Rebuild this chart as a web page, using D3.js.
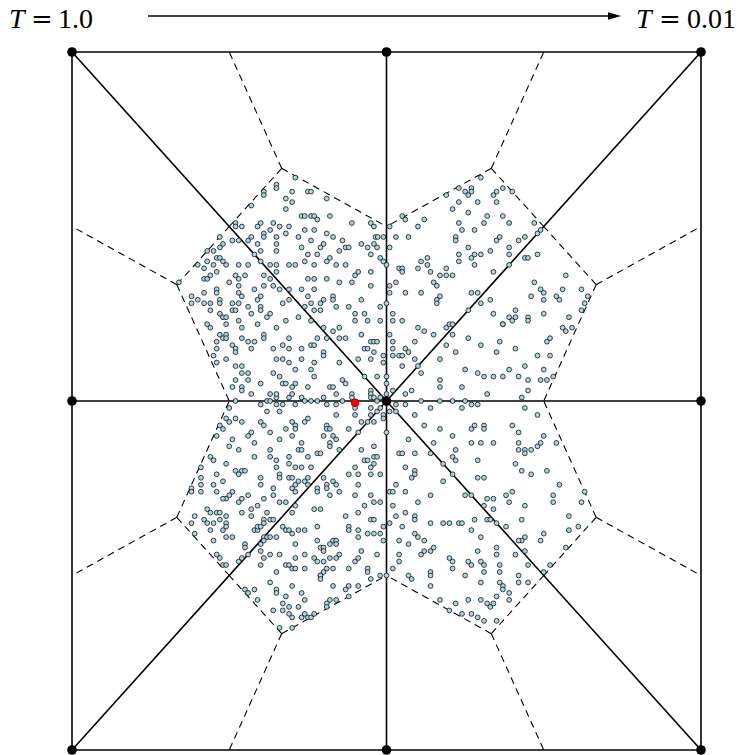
<!DOCTYPE html>
<html>
<head>
<meta charset="utf-8">
<script src="https://cdn.jsdelivr.net/npm/d3@7"></script>
<style>
  body { margin: 0; background: #fff; }
  svg { display: block; }
</style>
</head>
<body>
<svg id="chart" width="741" height="755"></svg>
<script>
// Mesh nodes on the square [-1,1] x [-1,1]
const nodes = [
  [-1, 1], [0, 1], [1, 1],
  [-1, 0], [0, 0], [1, 0],
  [-1, -1], [0, -1], [1, -1]
];
// Mesh edges (node index pairs): outer frame + spokes from the centre
const edges = [
  [0, 1], [1, 2], [2, 5], [5, 8], [8, 7], [7, 6], [6, 3], [3, 0],
  [4, 0], [4, 1], [4, 2], [4, 3], [4, 5], [4, 6], [4, 7], [4, 8]
];
// Triangles of the mesh (node indices)
const triangles = [
  [4, 1, 0], [4, 1, 2], [4, 5, 2], [4, 5, 8],
  [4, 7, 8], [4, 7, 6], [4, 3, 6], [4, 3, 0]
];
// Annealing samples
const samples = [
  [-0.29,0.64],[-0.35,0.62],[-0.35,0.61],[-0.39,0.60],[-0.39,0.59],[-0.30,0.60],[-0.32,0.58],[-0.30,0.57],[-0.25,0.60],[-0.24,0.60],
  [-0.43,0.56],[-0.32,0.55],[-0.27,0.53],[-0.26,0.53],[-0.24,0.53],[-0.23,0.53],[-0.22,0.52],[-0.40,0.51],[-0.48,0.51],[-0.48,0.50],
  [-0.46,0.50],[-0.41,0.50],[-0.37,0.49],[-0.39,0.48],[-0.39,0.47],[-0.36,0.51],[-0.34,0.50],[-0.31,0.50],[-0.32,0.48],[-0.26,0.49],
  [-0.23,0.49],[-0.53,0.47],[-0.52,0.45],[-0.49,0.46],[-0.47,0.46],[-0.44,0.46],[-0.43,0.47],[-0.41,0.45],[-0.40,0.43],[-0.35,0.47],
  [-0.35,0.45],[-0.35,0.43],[-0.28,0.47],[-0.27,0.44],[-0.24,0.46],[-0.21,0.44],[-0.57,0.43],[-0.55,0.43],[-0.53,0.44],[-0.54,0.41],
  [-0.53,0.41],[-0.42,0.42],[-0.40,0.40],[-0.37,0.39],[-0.35,0.39],[-0.25,0.42],[-0.22,0.42],[-0.60,0.39],[-0.58,0.38],[-0.57,0.40],
  [-0.55,0.39],[-0.52,0.40],[-0.51,0.39],[-0.47,0.39],[-0.44,0.39],[-0.31,0.39],[-0.29,0.39],[-0.26,0.40],[-0.23,0.39],[-0.66,0.34],
  [-0.58,0.35],[-0.57,0.35],[-0.56,0.36],[-0.54,0.37],[-0.50,0.34],[-0.48,0.36],[-0.47,0.35],[-0.45,0.36],[-0.39,0.36],[-0.37,0.35],
  [-0.35,0.37],[-0.25,0.35],[-0.23,0.35],[-0.62,0.30],[-0.62,0.28],[-0.60,0.29],[-0.58,0.28],[-0.58,0.31],[-0.56,0.28],[-0.54,0.32],
  [-0.54,0.31],[-0.53,0.29],[-0.53,0.28],[-0.47,0.33],[-0.47,0.31],[-0.46,0.30],[-0.42,0.32],[-0.40,0.30],[-0.41,0.29],[-0.39,0.33],
  [-0.36,0.33],[-0.34,0.32],[-0.31,0.32],[-0.27,0.32],[-0.25,0.30],[-0.23,0.32],[-0.21,0.28],[-0.49,0.28],[-0.47,0.28],[-0.56,0.26],
  [-0.49,0.26],[-0.48,0.26],[-0.44,0.27],[-0.43,0.25],[-0.40,0.27],[-0.40,0.26],[-0.38,0.24],[-0.37,0.25],[-0.33,0.28],[-0.31,0.29],
  [-0.28,0.24],[-0.26,0.27],[-0.24,0.28],[-0.23,0.26],[-0.21,0.26],[-0.53,0.25],[-0.52,0.24],[-0.51,0.24],[-0.51,0.22],[-0.47,0.23],
  [-0.41,0.22],[-0.32,0.23],[-0.24,0.23],[-0.57,0.22],
  [-0.19,0.58],[-0.18,0.53],[-0.11,0.51],[-0.05,0.51],[-0.04,0.50],[0.01,0.50],[-0.19,0.48],[-0.17,0.47],[-0.20,0.45],[-0.14,0.46],
  [-0.13,0.44],[-0.12,0.44],[-0.15,0.43],[-0.08,0.45],[-0.06,0.44],[-0.05,0.42],[-0.04,0.45],[-0.03,0.44],[-0.035,0.47],[-0.028,0.47],
  [-0.01,0.47],[0.01,0.44],[0.03,0.47],[0.07,0.47],[0.05,0.53],[0.06,0.52],[0.12,0.52],[0.10,0.50],[-0.18,0.41],[-0.19,0.40],
  [-0.16,0.39],[-0.13,0.39],[-0.10,0.36],[-0.09,0.37],[-0.05,0.37],[-0.19,0.35],[-0.11,0.34],[-0.15,0.34],[-0.02,0.41],[-0.01,0.40],
  [0.00,0.39],[-0.05,0.33],[0.03,0.34],[0.01,0.33],[0.01,0.31],[0.06,0.31],[0.04,0.38],[0.05,0.38],[0.05,0.37],[0.10,0.38],
  [0.11,0.40],[0.13,0.41],[0.13,0.39],[0.14,0.37],[0.17,0.36],[0.19,0.36],[0.21,0.36],[0.19,0.38],[0.15,0.34],[0.16,0.33],
  [0.17,0.30],[0.16,0.29],[0.16,0.28],[0.11,0.31],[-0.17,0.30],[-0.17,0.29],[-0.16,0.27],[-0.12,0.27],[-0.20,0.29],[-0.08,0.29],
  [-0.10,0.25],[-0.10,0.23],[-0.07,0.25],[-0.06,0.23],[-0.02,0.27],[0.00,0.28],[0.02,0.25],[0.02,0.23],[-0.02,0.23],[0.05,0.23],
  [0.23,0.61],[0.19,0.59],[0.23,0.57],[0.21,0.55],[0.23,0.51],[0.22,0.47],[0.22,0.46],[0.23,0.42],[0.23,0.40],[0.20,0.22],
  [0.30,0.64],[0.25,0.60],[0.26,0.59],[0.27,0.61],[0.27,0.60],[0.34,0.59],[0.35,0.60],[0.37,0.61],[0.40,0.60],[0.29,0.57],
  [0.35,0.57],[0.26,0.54],[0.32,0.53],[0.37,0.53],[0.31,0.51],[0.39,0.51],[0.24,0.49],[0.28,0.49],[0.47,0.51],[0.49,0.49],
  [0.48,0.48],[0.44,0.47],[0.42,0.46],[0.35,0.46],[0.36,0.47],[0.26,0.44],[0.39,0.44],[0.33,0.43],[0.30,0.42],[0.28,0.42],
  [0.27,0.41],[0.28,0.39],[0.39,0.42],[0.44,0.41],[0.45,0.41],[0.48,0.42],[0.39,0.39],[0.34,0.37],[0.57,0.36],[0.47,0.34],
  [0.49,0.32],[0.50,0.31],[0.46,0.30],[0.50,0.29],[0.56,0.32],[0.54,0.30],[0.55,0.29],[0.62,0.32],[0.64,0.30],[0.63,0.28],
  [0.62,0.26],[0.27,0.31],[0.29,0.31],[0.33,0.29],[0.30,0.28],[0.26,0.26],[0.34,0.25],[0.41,0.26],[0.45,0.24],[0.39,0.24],
  [0.40,0.23],[0.41,0.24],[0.50,0.25],[0.58,0.24],[0.45,0.23],[0.37,0.22],
  [-0.56,0.21],[-0.46,0.21],[-0.35,0.21],[-0.53,0.19],[-0.51,0.19],[-0.52,0.18],[-0.51,0.18],[-0.49,0.16],[-0.48,0.15],[-0.48,0.14],
  [-0.54,0.17],[-0.54,0.15],[-0.55,0.13],[-0.46,0.18],[-0.44,0.17],[-0.42,0.17],[-0.43,0.15],[-0.39,0.19],[-0.39,0.18],[-0.36,0.15],
  [-0.33,0.16],[-0.31,0.18],[-0.31,0.15],[-0.27,0.15],[-0.24,0.16],[-0.23,0.16],[-0.22,0.18],[-0.54,0.11],[-0.51,0.12],[-0.48,0.10],
  [-0.46,0.10],[-0.46,0.08],[-0.44,0.08],[-0.44,0.06],[-0.48,0.06],[-0.49,0.04],[-0.46,0.04],[-0.46,0.03],[-0.40,0.05],[-0.43,0.02],
  [-0.35,0.12],[-0.33,0.12],[-0.31,0.11],[-0.29,0.09],[-0.27,0.12],[-0.24,0.09],[-0.23,0.11],[-0.23,0.07],[-0.36,0.08],[-0.34,0.07],
  [-0.33,0.05],[-0.32,0.05],[-0.30,0.04],[-0.29,0.05],[-0.30,0.02],[-0.25,0.04],[-0.37,0.02],[-0.35,0.01],[-0.35,0.02],[-0.27,0.01],
  [-0.26,0.00],[-0.24,0.00],[-0.22,0.00],[-0.48,0.00],[-0.50,-0.02],[-0.40,-0.01],[-0.38,0.00],[-0.37,0.00],[-0.35,-0.01],[-0.33,-0.01],
  [-0.31,0.01],[-0.29,-0.01],[-0.38,-0.03],[-0.34,-0.03],[-0.51,-0.05],[-0.53,-0.07],[-0.54,-0.10],[-0.52,-0.08],[-0.50,-0.06],[-0.48,-0.05],
  [-0.46,-0.06],[-0.40,-0.06],[-0.39,-0.07],[-0.43,-0.09],[-0.44,-0.10],[-0.37,-0.09],[-0.30,-0.06],[-0.32,-0.08],[-0.29,-0.07],[-0.29,-0.08],
  [-0.30,-0.10],[-0.25,-0.05],[-0.26,-0.06],[-0.49,-0.11],[-0.50,-0.13],[-0.42,-0.12],[-0.34,-0.11],[-0.27,-0.12],[-0.47,-0.14],[-0.42,-0.16],
  [-0.37,-0.14],[-0.37,-0.16],[-0.35,-0.17],[-0.31,-0.16],[-0.28,-0.14],[-0.27,-0.14],[-0.25,-0.16],[-0.22,-0.15],[-0.56,-0.16],[-0.55,-0.17],
  [-0.59,-0.19],[-0.51,-0.18],[-0.54,-0.21],[-0.48,-0.20],[-0.46,-0.20],[-0.45,-0.20],[-0.47,-0.21],[-0.35,-0.19],[-0.31,-0.18],[-0.29,-0.19],
  [-0.27,-0.19],[-0.24,-0.19],[-0.40,-0.22],[-0.34,-0.21],[-0.34,-0.22],[-0.31,-0.22],[-0.30,-0.22],[-0.28,-0.23],[-0.26,-0.23],[-0.25,-0.22],
  [-0.59,-0.22],[-0.52,-0.23],
  [-0.20,0.21],[-0.17,0.20],[-0.15,0.18],[-0.13,0.18],[-0.19,0.18],[-0.15,0.21],[-0.08,0.19],[-0.05,0.17],[-0.04,0.17],[-0.03,0.17],
  [-0.07,0.15],[-0.06,0.15],[-0.05,0.12],[-0.01,0.13],[-0.01,0.11],[-0.04,0.14],[-0.20,0.14],[-0.20,0.13],[-0.15,0.11],[-0.09,0.12],
  [0.01,0.19],[0.02,0.17],[0.02,0.15],[0.04,0.13],[0.02,0.13],[0.09,0.17],[0.10,0.21],[0.12,0.20],[0.15,0.19],[0.19,0.21],
  [0.21,0.19],[0.21,0.22],[0.19,0.16],[0.22,0.14],[0.06,0.15],[0.07,0.14],[0.05,0.13],[0.09,0.12],[0.05,0.10],[0.10,0.10],
  [0.11,0.08],[0.17,0.12],[-0.07,0.07],[-0.03,0.07],[0.00,0.07],[0.00,0.05],[-0.18,0.04],[-0.17,0.04],[-0.16,0.02],[-0.14,0.06],
  [-0.13,0.05],[-0.11,0.02],[-0.11,0.01],[-0.20,0.01],[-0.19,-0.01],[-0.16,-0.01],[-0.14,0.00],[-0.05,0.03],[-0.05,0.02],[-0.05,0.01],
  [-0.04,0.01],[-0.03,0.00],[-0.02,0.01],[0.00,0.02],[0.02,0.03],[0.06,0.02],[0.08,0.03],[0.03,-0.01],[0.06,-0.01],[0.17,0.06],
  [0.17,0.04],[0.17,0.00],[0.21,0.00],[0.11,0.00],[-0.16,-0.04],[-0.10,-0.02],[-0.10,-0.04],[-0.05,-0.02],[-0.05,-0.04],[-0.03,-0.03],
  [-0.02,-0.02],[-0.01,-0.04],[-0.01,-0.05],[0.01,-0.03],[0.03,-0.03],[-0.08,-0.06],[-0.06,-0.06],[-0.04,-0.06],[-0.12,-0.08],[-0.09,-0.09],
  [0.00,-0.09],[-0.19,-0.07],[-0.19,-0.08],[-0.18,-0.08],[-0.17,-0.10],[-0.20,-0.10],[-0.16,-0.11],[-0.18,-0.12],[-0.18,-0.13],[-0.15,-0.14],
  [0.09,-0.04],[0.12,-0.07],[0.07,-0.11],[0.14,-0.02],[0.17,-0.08],[0.15,-0.12],[0.21,-0.10],[0.22,-0.14],[0.21,-0.16],[0.22,-0.17],
  [-0.08,-0.14],[-0.04,-0.13],[0.04,-0.15],[0.05,-0.15],[0.09,-0.15],[0.14,-0.15],[-0.10,-0.19],[-0.07,-0.17],[-0.06,-0.17],[-0.04,-0.16],
  [-0.03,-0.16],[-0.05,-0.19],[-0.04,-0.18],[-0.05,-0.21],[-0.02,-0.21],[0.06,-0.19],[0.09,-0.20],[0.09,-0.21],[0.08,-0.22],[0.18,-0.18],
  [-0.21,-0.15],[-0.20,-0.22],[-0.12,-0.21],[-0.09,-0.21],[0.18,-0.23],[0.21,-0.21],
  [0.37,0.22],[0.56,0.21],[0.57,0.20],[0.59,0.21],[0.26,0.18],[0.30,0.16],[0.36,0.17],[0.41,0.15],[0.35,0.14],[0.51,0.17],
  [0.52,0.18],[0.48,0.13],[0.52,0.13],[0.44,0.10],[0.50,0.09],[0.25,0.09],[0.29,0.08],[0.31,0.07],[0.34,0.07],[0.37,0.07],
  [0.39,0.09],[0.42,0.07],[0.45,0.06],[0.49,0.06],[0.51,0.06],[0.53,0.07],[0.24,0.04],[0.32,0.02],[0.43,0.01],[0.45,0.03],
  [0.25,0.00],[0.24,-0.02],[0.27,-0.01],[0.29,-0.01],[0.44,-0.02],[0.48,-0.04],[0.40,-0.07],[0.27,-0.08],[0.28,-0.07],[0.31,-0.07],
  [0.31,-0.08],[0.42,-0.09],[0.27,-0.12],[0.30,-0.12],[0.34,-0.12],[0.42,-0.12],[0.42,-0.14],[0.44,-0.14],[0.46,-0.14],[0.48,-0.13],
  [0.49,-0.12],[0.50,-0.10],[0.54,-0.12],[0.44,-0.15],[0.29,-0.17],[0.41,-0.18],[0.43,-0.20],[0.46,-0.21],[0.51,-0.20],[0.29,-0.22],
  [0.31,-0.22],
  [-0.62,-0.25],[-0.62,-0.26],[-0.59,-0.24],[-0.59,-0.26],[-0.55,-0.24],[-0.54,-0.26],[-0.49,-0.26],[-0.50,-0.27],[-0.51,-0.28],[-0.52,-0.28],
  [-0.46,-0.28],[-0.44,-0.27],[-0.47,-0.29],[-0.40,-0.24],[-0.36,-0.25],[-0.36,-0.27],[-0.34,-0.29],[-0.39,-0.28],[-0.41,-0.30],[-0.43,-0.31],
  [-0.32,-0.29],[-0.30,-0.25],[-0.29,-0.24],[-0.29,-0.26],[-0.25,-0.24],[-0.22,-0.25],[-0.22,-0.26],[-0.29,-0.30],[-0.30,-0.32],[-0.23,-0.31],
  [-0.61,-0.33],[-0.62,-0.35],[-0.61,-0.38],[-0.57,-0.31],[-0.56,-0.32],[-0.54,-0.32],[-0.53,-0.32],[-0.51,-0.33],[-0.58,-0.34],[-0.57,-0.35],
  [-0.55,-0.35],[-0.53,-0.34],[-0.51,-0.35],[-0.51,-0.36],[-0.52,-0.37],[-0.46,-0.32],[-0.43,-0.33],[-0.56,-0.37],[-0.55,-0.40],[-0.51,-0.39],
  [-0.49,-0.39],[-0.45,-0.41],[-0.45,-0.42],[-0.42,-0.37],[-0.41,-0.37],[-0.41,-0.36],[-0.39,-0.34],[-0.37,-0.34],[-0.36,-0.34],[-0.40,-0.36],
  [-0.39,-0.35],[-0.38,-0.32],[-0.39,-0.39],[-0.38,-0.39],[-0.37,-0.39],[-0.35,-0.39],[-0.40,-0.41],[-0.40,-0.43],[-0.39,-0.40],[-0.37,-0.44],
  [-0.39,-0.45],[-0.40,-0.47],[-0.33,-0.36],[-0.32,-0.37],[-0.31,-0.37],[-0.28,-0.37],[-0.26,-0.37],[-0.30,-0.38],[-0.22,-0.36],[-0.22,-0.40],
  [-0.29,-0.41],[-0.21,-0.42],[-0.34,-0.44],[-0.32,-0.47],[-0.31,-0.47],[-0.29,-0.45],[-0.30,-0.48],[-0.29,-0.48],[-0.26,-0.48],[-0.26,-0.44],
  [-0.23,-0.45],[-0.22,-0.46],[-0.21,-0.50],[-0.54,-0.44],[-0.53,-0.45],[-0.52,-0.47],[-0.51,-0.47],[-0.47,-0.46],[-0.46,-0.45],[-0.44,-0.44],
  [-0.45,-0.54],[-0.44,-0.55],[-0.42,-0.54],[-0.41,-0.57],[-0.37,-0.52],[-0.35,-0.49],[-0.35,-0.54],[-0.35,-0.55],[-0.32,-0.56],[-0.36,-0.60],
  [-0.33,-0.58],[-0.33,-0.60],[-0.31,-0.59],[-0.31,-0.61],[-0.30,-0.62],[-0.28,-0.59],[-0.27,-0.55],[-0.26,-0.57],[-0.27,-0.62],[-0.26,-0.61],
  [-0.25,-0.62],[-0.24,-0.62],[-0.23,-0.61],[-0.30,-0.53],[-0.34,-0.65],[-0.30,-0.65],
  [-0.19,-0.24],[-0.17,-0.23],[-0.16,-0.24],[-0.19,-0.25],[-0.15,-0.26],[-0.18,-0.27],[-0.09,-0.24],[-0.10,-0.27],[-0.05,-0.27],[-0.07,-0.30],
  [-0.04,-0.29],[-0.02,-0.29],[-0.09,-0.32],[-0.13,-0.33],[-0.21,-0.31],[-0.05,-0.34],[-0.04,-0.34],[-0.12,-0.36],[-0.12,-0.37],[-0.09,-0.37],
  [-0.06,-0.38],[-0.04,-0.38],[-0.02,-0.38],[-0.01,-0.36],[-0.01,-0.40],[-0.09,-0.39],[-0.08,-0.43],[-0.17,-0.40],[-0.16,-0.40],[-0.18,-0.41],
  [-0.16,-0.41],[-0.20,-0.42],[-0.20,-0.43],[-0.15,-0.44],[-0.03,-0.44],[-0.18,-0.45],[-0.20,-0.46],[-0.16,-0.45],[-0.20,-0.49],[-0.19,-0.48],
  [-0.17,-0.48],[-0.12,-0.48],[-0.10,-0.46],[-0.09,-0.45],[-0.06,-0.48],[-0.06,-0.49],[-0.21,-0.50],[-0.21,-0.51],[-0.05,-0.51],[-0.02,-0.50],
  [0.00,-0.50],[-0.09,-0.53],[-0.12,-0.53],[-0.12,-0.56],[-0.13,-0.54],[-0.17,-0.53],[-0.16,-0.57],[-0.18,-0.57],[-0.19,-0.58],[-0.19,-0.59],
  [0.03,-0.24],[0.01,-0.26],[0.02,-0.26],[0.06,-0.26],[0.02,-0.30],[0.01,-0.35],[0.03,-0.33],[0.05,-0.36],[0.06,-0.32],[0.10,-0.29],
  [0.14,-0.27],[0.09,-0.33],[0.09,-0.34],[0.14,-0.35],[0.18,-0.35],[0.20,-0.35],[0.23,-0.35],[0.04,-0.40],[0.07,-0.41],[0.09,-0.38],
  [0.10,-0.39],[0.12,-0.40],[0.11,-0.44],[0.12,-0.43],[0.14,-0.43],[0.15,-0.42],[0.04,-0.44],[0.04,-0.46],[0.02,-0.48],[0.07,-0.50],
  [0.08,-0.51],[0.14,-0.49],[0.14,-0.50],[0.14,-0.53],[0.20,-0.45],[0.21,-0.46],[0.21,-0.48],[0.17,-0.57],[0.22,-0.58],[0.20,-0.60],
  [0.24,-0.61],
  [0.25,-0.27],[0.27,-0.27],[0.31,-0.30],[0.32,-0.28],[0.34,-0.28],[0.34,-0.31],[0.38,-0.27],[0.40,-0.26],[0.39,-0.29],[0.44,-0.30],
  [0.55,-0.24],[0.53,-0.27],[0.53,-0.29],[0.63,-0.26],[0.62,-0.29],[0.58,-0.33],[0.58,-0.37],[0.61,-0.36],[0.28,-0.34],[0.32,-0.34],
  [0.33,-0.34],[0.35,-0.35],[0.38,-0.36],[0.24,-0.35],[0.27,-0.37],[0.30,-0.39],[0.43,-0.34],[0.50,-0.38],[0.49,-0.40],[0.44,-0.39],
  [0.43,-0.40],[0.42,-0.40],[0.57,-0.42],[0.44,-0.43],[0.41,-0.44],[0.35,-0.42],[0.35,-0.44],[0.29,-0.43],[0.26,-0.46],[0.27,-0.47],
  [0.30,-0.46],[0.31,-0.47],[0.31,-0.49],[0.36,-0.47],[0.36,-0.49],[0.45,-0.47],[0.52,-0.47],[0.50,-0.49],[0.42,-0.50],[0.42,-0.52],
  [0.45,-0.52],[0.25,-0.50],[0.30,-0.52],[0.36,-0.52],[0.37,-0.53],[0.37,-0.54],[0.39,-0.55],[0.39,-0.57],[0.35,-0.56],[0.26,-0.57],
  [0.30,-0.57],[0.32,-0.58],[0.33,-0.59],[0.34,-0.58],[0.27,-0.61],[0.29,-0.62],[0.31,-0.63],[0.35,-0.63]
];
// Current state of the annealing chain
const current = [-0.10, -0.005];
// Temperature schedule labels (start, end)
const temperatures = ["1.0", "0.01"];

const svg = d3.select("#chart");
const x = d3.scaleLinear().domain([-1, 1]).range([72, 701]);
const y = d3.scaleLinear().domain([-1, 1]).range([750, 52]);

// Dual mesh: each triangle centroid joined to the midpoints of its edges
const dualSegs = [];
triangles.forEach(t => {
  const p = t.map(i => nodes[i]);
  const c = [(p[0][0] + p[1][0] + p[2][0]) / 3, (p[0][1] + p[1][1] + p[2][1]) / 3];
  [[0, 1], [1, 2], [2, 0]].forEach(([a, b]) => {
    const m = [(p[a][0] + p[b][0]) / 2, (p[a][1] + p[b][1]) / 2];
    dualSegs.push([c, m]);
  });
});

const line = d3.line().x(d => x(d[0])).y(d => y(d[1]));

svg.append("g")
  .selectAll("path")
  .data(dualSegs)
  .join("path")
  .attr("d", line)
  .attr("fill", "none")
  .attr("stroke", "#000")
  .attr("stroke-width", 1.1)
  .attr("stroke-dasharray", "7,5");

svg.append("g")
  .selectAll("path")
  .data(edges)
  .join("path")
  .attr("d", e => line([nodes[e[0]], nodes[e[1]]]))
  .attr("fill", "none")
  .attr("stroke", "#000")
  .attr("stroke-width", 1.6);

svg.append("g")
  .selectAll("circle")
  .data(samples)
  .join("circle")
  .attr("cx", d => x(d[0]))
  .attr("cy", d => y(d[1]))
  .attr("r", 2.4)
  .attr("fill", "#a9d6e5")
  .attr("stroke", "#111")
  .attr("stroke-width", 0.8);

svg.append("g")
  .selectAll("circle")
  .data(nodes)
  .join("circle")
  .attr("cx", d => x(d[0]))
  .attr("cy", d => y(d[1]))
  .attr("r", 4.8)
  .attr("fill", "#000");

svg.append("circle")
  .attr("cx", x(current[0]))
  .attr("cy", y(current[1]))
  .attr("r", 3.9)
  .attr("fill", "#ff0000")
  .attr("stroke", "#800000")
  .attr("stroke-width", 0.7);

// Temperature labels and schedule arrow
const serif = "'Liberation Serif', 'Times New Roman', serif";
function tempLabel(xT, xEq, xVal, value) {
  const g = svg.append("g").attr("fill", "#000").attr("font-size", 28);
  g.append("text").attr("x", xT).attr("y", 28)
    .attr("font-family", serif).attr("font-style", "italic").text("T");
  g.append("text").attr("x", xEq).attr("y", 28)
    .attr("font-family", "'DejaVu Serif', serif").attr("font-size", 26).text("=");
  g.append("text").attr("x", xVal).attr("y", 28)
    .attr("font-family", serif).text(value);
}
tempLabel(9, 31, 58, temperatures[0]);
tempLabel(636, 659, 687, temperatures[1]);

svg.append("line")
  .attr("x1", 148).attr("x2", 612)
  .attr("y1", 16).attr("y2", 16)
  .attr("stroke", "#000")
  .attr("stroke-width", 1.6);
svg.append("path")
  .attr("d", "M621,16 L608,12.3 L608,19.7 Z")
  .attr("fill", "#000");
</script>
</body>
</html>
